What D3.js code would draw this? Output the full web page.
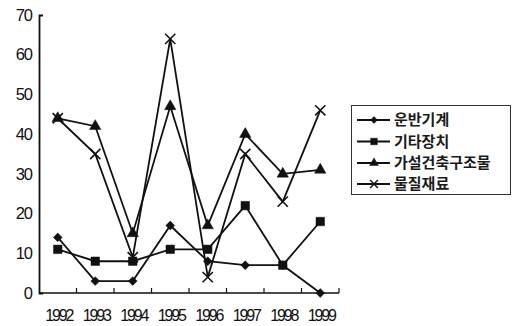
<!DOCTYPE html>
<html>
<head>
<meta charset="utf-8">
<script src="https://cdn.jsdelivr.net/npm/d3@7"></script>
<style>
  html, body { margin: 0; padding: 0; background: #fff; }
  svg { display: block; }
  .ylab { font-family: "Liberation Sans", Arial, sans-serif; font-size: 16.5px; letter-spacing: -1px; fill: #111; }
  .xlab { font-family: "Liberation Sans", Arial, sans-serif; font-size: 16px; letter-spacing: -2.1px; fill: #111; }
  .leg { font-family: "Noto Sans CJK KR", sans-serif; font-size: 15px; font-weight: 700; fill: #1a1a1a; }
</style>
</head>
<body>
<svg id="chart" width="515" height="326"></svg>
<script>
// Accident counts by cause, 1992–1999
const years = ["1992", "1993", "1994", "1995", "1996", "1997", "1998", "1999"];
const carrying   = [14, 3, 3, 17, 8, 7, 7, 0];      // 운반기계
const otherDev   = [11, 8, 8, 11, 11, 22, 7, 18];   // 기타장치
const temporary  = [44, 42, 15, 47, 17, 40, 30, 31];// 가설건축구조물
const materials  = [44, 35, 9, 64, 4, 35, 23, 46];  // 물질재료
const yTicks = [0, 10, 20, 30, 40, 50, 60, 70];

const series = [
  { name: "운반기계", values: carrying, symbol: d3.symbolDiamond2, size: 50, cross: false },
  { name: "기타장치", values: otherDev, symbol: d3.symbolSquare, size: 72, cross: false },
  { name: "가설건축구조물", values: temporary, symbol: d3.symbolTriangle, size: 56, cross: false },
  { name: "물질재료", values: materials, symbol: d3.symbolX, size: 70, cross: true }
];

const svg = d3.select("#chart");
const plotL = 39, plotR = 339, plotT = 15, plotB = 293;

const x = d3.scaleBand().domain(years).range([plotL, plotR]).padding(0);
const y = d3.scaleLinear().domain([0, 70]).range([plotB, plotT]);

// Y axis: line with a short inward cap at the top
const yAxis = d3.axisLeft(y).tickValues(yTicks).tickSizeInner(0).tickSizeOuter(-4).tickPadding(0);
const gy = svg.append("g").attr("transform", `translate(${plotL},0)`).call(yAxis);
gy.attr("font-size", null).attr("font-family", null);
gy.select(".domain").attr("stroke", "#111").attr("stroke-width", 1.8);
gy.selectAll(".tick line").remove();
gy.selectAll(".tick text").attr("class", "ylab").attr("x", -7).attr("fill", null);

// X axis: baseline with upward ticks at category boundaries
const gx = svg.append("g");
gx.append("line").attr("x1", plotL).attr("x2", plotR).attr("y1", plotB).attr("y2", plotB)
  .attr("stroke", "#111").attr("stroke-width", 1.6);
gx.selectAll("line.tk").data(years).join("line").attr("class", "tk")
  .attr("x1", d => x(d) + x.bandwidth()).attr("x2", d => x(d) + x.bandwidth())
  .attr("y1", plotB).attr("y2", plotB - 5)
  .attr("stroke", "#111").attr("stroke-width", 1.2);
gx.selectAll("text").data(years).join("text").attr("class", "xlab")
  .attr("x", d => x(d) + x.bandwidth() / 2 + 1).attr("y", 321)
  .attr("text-anchor", "middle").text(d => d);

const cx = (d, i) => x(years[i]) + x.bandwidth() / 2;
const line = d3.line().x((d, i) => cx(d, i)).y(d => y(d));

series.forEach(s => {
  const g = svg.append("g");
  g.append("path").datum(s.values).attr("d", line)
    .attr("fill", "none").attr("stroke", "#111").attr("stroke-width", 1.8);
  const sym = d3.symbol().type(s.symbol).size(s.size);
  g.selectAll("path.m").data(s.values).join("path").attr("class", "m")
    .attr("transform", (d, i) => `translate(${cx(d, i)},${y(d)})`)
    .attr("d", sym)
    .attr("fill", s.cross ? "none" : "#111")
    .attr("stroke", "#111").attr("stroke-width", s.cross ? 1.6 : 0.5);
});

// Legend
const lg = svg.append("g");
lg.append("rect").attr("x", 351.5).attr("y", 105.5).attr("width", 159).attr("height", 89)
  .attr("fill", "#fff").attr("stroke", "#333").attr("stroke-width", 1);
const rowY = [120, 141.5, 163, 184];
series.forEach((s, i) => {
  const yy = rowY[i];
  lg.append("line").attr("x1", 357).attr("x2", 390).attr("y1", yy).attr("y2", yy)
    .attr("stroke", "#111").attr("stroke-width", 1.8);
  lg.append("path").attr("transform", `translate(374,${yy})`)
    .attr("d", d3.symbol().type(s.symbol).size(s.size * 0.6))
    .attr("fill", s.cross ? "none" : "#111").attr("stroke", "#111").attr("stroke-width", s.cross ? 1.4 : 0.5);
  lg.append("text").attr("class", "leg").attr("x", 394).attr("y", yy).attr("dy", "0.36em").text(s.name);
});
</script>
</body>
</html>
